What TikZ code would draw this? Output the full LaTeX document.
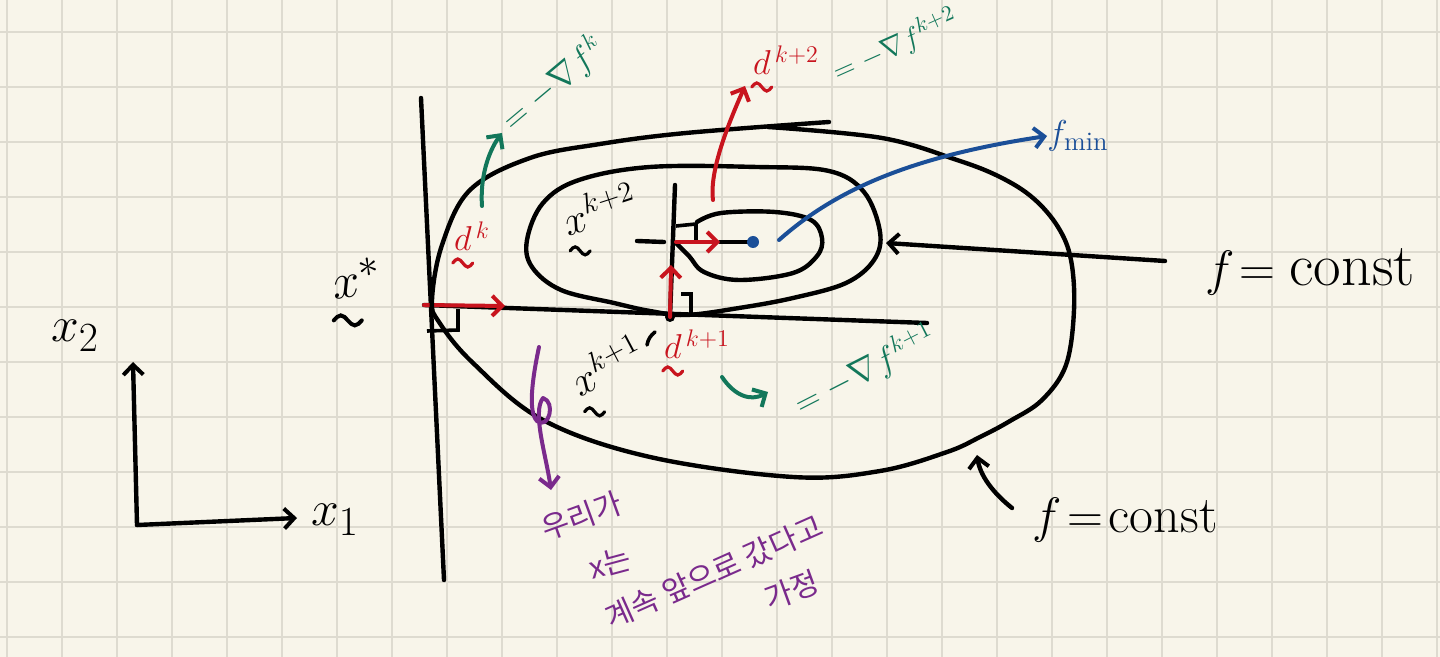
\documentclass[tikz,border=0pt]{standalone}
\usepackage{fontspec}
\usepackage{amsmath}
\newfontfamily\krfont{Noto Sans CJK KR}
\usetikzlibrary{arrows.meta}
\definecolor{paper}{HTML}{F8F5EA}
\definecolor{gridc}{HTML}{DEDBD0}
\definecolor{pred}{HTML}{C8141E}
\definecolor{pgreen}{HTML}{12775A}
\definecolor{pblue}{HTML}{1B4F98}
\definecolor{ppurple}{HTML}{7A2A8C}
% handwritten tilde (vector mark) centred at coordinate named #1
\newcommand{\tld}[2]{\draw[line width=1.6pt, line cap=round, #2] ([xshift=-5pt]#1) sin ++(2.5pt,2pt) cos ++(2.5pt,-2pt) sin ++(2.5pt,-2pt) cos ++(2.5pt,2pt);}
\begin{document}
\begin{tikzpicture}[x=0.5pt,y=-0.5pt,
 ink/.style={line width=2.2pt, line cap=round, line join=round},
 pen/.style={line width=2pt, line cap=round, line join=round},
 barb/.style={-{Straight Barb[length=5pt,width=10pt,line width=2pt]}},
 lbl/.style={inner sep=0pt},
 small/.style={lbl, font=\fontsize{17}{19}\selectfont},
 mid/.style={lbl, font=\fontsize{20}{22}\selectfont},
 big/.style={lbl, font=\fontsize{30}{32}\selectfont},
 kr/.style={lbl, text=ppurple, font=\krfont\fontsize{15}{17}\selectfont},
]
\fill[paper] (0,0) rectangle (1440,657);
\useasboundingbox (0,0) rectangle (1440,657);
\foreach \i in {0,...,26} \draw[gridc, line width=0.8pt] ({7+55*\i},0) -- ({7+55*\i},657);
\foreach \j in {0,...,11} \draw[gridc, line width=0.8pt] (0,{32+55*\j}) -- (1440,{32+55*\j});

% axes
\coordinate (O) at (137,525);
\coordinate (Ytop) at (133,362);
\coordinate (Xend) at (297,518);
\draw[ink,barb] (O) -- (Ytop);
\draw[ink,barb] (O) -- (Xend);
\node[big] (x2) at (75,336) {$x_2$};
\node[big] (x1) at (335,520) {$x_1$};

% long vertical line and tangent line
\coordinate (Vt) at (421,98);
\coordinate (Vb) at (444,580);
\draw[ink] (Vt) -- (Vb);
\coordinate (Hl) at (424,305);
\coordinate (Hr) at (927,323);
\draw[ink] (Hl) -- (Hr);
\coordinate (ra1) at (427,331);
\coordinate (ra2) at (458,330);
\coordinate (ra3) at (458,309);
\draw[line width=1.8pt] (ra1) -- (ra2) -- (ra3);
\coordinate (dkend) at (505,306);
\draw[pen,pred,barb] (Hl) -- (dkend);

% outer contour
\draw[ink] plot[smooth, tension=0.6] coordinates {(768,127) (882,138) (957,160) (1000,177) (1033,198) (1058,227) (1071,260) (1074,310) (1066,365) (1042,400) (1010,421) (980,437) (947,452) (880,471) (793,477) (650,457) (543,420) (473,363) (439,322) (432,300) (442,245) (470,190) (530,158) (600,144) (686,133) (829,122)};

% middle contour
\draw[ink] plot[smooth cycle, tension=0.6] coordinates {(686,315) (650,311) (614,303) (561,290) (532,267) (527,240) (543,203) (579,180) (650,167) (757,167) (829,171) (864,192) (880,232) (874,260) (846,283) (793,298) (739,308)};

% inner contour
\draw[ink] plot[smooth, tension=0.6] coordinates {(697,222) (721,213) (775,212) (811,220) (822,238) (817,256) (793,273) (739,280) (704,272) (689,256) (676,243)};

% x^{k+1}
\coordinate (K1) at (670,317);
\coordinate (K1top) at (675,185);
\draw[ink] (K1) -- (K1top);
\fill (K1) circle (5);
\coordinate (dk1end) at (671,265);
\draw[pen,pred,barb] (K1) -- (dk1end);
\coordinate (rb1) at (681,294);
\coordinate (rb2) at (691,294);
\coordinate (rb3) at (691,316);
\draw[line width=1.8pt] (rb1) -- (rb2) -- (rb3);

% x^{k+2}
\coordinate (K2) at (676,242);
\coordinate (tickL) at (637,241);
\coordinate (tickR) at (664,242);
\draw[ink] (tickL) -- (tickR);
\coordinate (rc1) at (676,226);
\coordinate (rc2) at (696,224);
\coordinate (rc3) at (696,242);
\draw[line width=1.8pt] (rc1) -- (rc2) -- (rc3);
\coordinate (dk2end) at (720,242);
\coordinate (Min) at (753,242);
\draw[ink] (dk2end) -- (Min);
\draw[pen,pred,barb] (K2) -- (dk2end);
\fill[pblue] (Min) circle (6);

% f_min
\node[lbl, text=pblue, font=\fontsize{19}{21}\selectfont] (fmin) at (1078,136) {$f_{\mathrm{min}}$};
\coordinate (bstart) at (779,240);
\draw[pen,pblue,barb] (bstart) .. controls (830,195) and (900,158) .. (fmin.west);

% f = const (right)
\node[big] (fc1) at (1310,272) {$f\!=\mathrm{const}$};
\coordinate (a1s) at (1165,261);
\coordinate (a1e) at (886,243);
\draw[ink,barb] (a1s) -- (a1e);

% f = const (bottom)
\node[lbl, font=\fontsize{26}{28}\selectfont] (fc2) at (1125,520) {$f\!=\!\mathrm{const}$};
\coordinate (a2s) at (1012,508);
\coordinate (a2e) at (977,455);
\draw[ink,barb] (a2s) .. controls (992,492) and (980,475) .. (a2e);

% d^k
\node[small, text=pred] (dk) at (472,236) {$d^{\,k}$};
\coordinate (dkt) at ([xshift=4.5pt,yshift=-6pt]dk.south west);
\tld{dkt}{pred}
\coordinate (gks) at (482,206);
\coordinate (gke) at (502,133);
\draw[pen,pgreen,barb] (gks) .. controls (480,178) and (488,152) .. (gke);
\node[small, text=pgreen, rotate=40] (gk) at (553,84) {$=-\nabla f^{k}$};

% d^{k+2}
\node[small, text=pred] (dk2) at (786,60) {$d^{\,k+2}$};
\coordinate (dk2t) at ([xshift=4.5pt,yshift=-6pt]dk2.south west);
\tld{dk2t}{pred}
\coordinate (rks) at (713,200);
\coordinate (rke) at (745,86);
\draw[pen,pred,barb] (rks) .. controls (709,170) and (730,120) .. (rke);
\node[lbl, text=pgreen, rotate=24, font=\fontsize{15}{17}\selectfont] (gk2) at (895,45) {$=-\nabla f^{k+2}$};

% x labels
\node[mid, rotate=18] (xk2) at (599,208) {$x^{k+2}$};
\coordinate (xk2t) at ([xshift=6pt,yshift=-7pt]xk2.south west);
\tld{xk2t}{black}
\node[mid, rotate=28] (xk1) at (606,364) {$x^{k+1}$};
\coordinate (xk1t) at ([xshift=7pt,yshift=-7pt]xk1.south west);
\tld{xk1t}{black}
\coordinate (tk1) at (655,332);
\coordinate (tk2) at (647,345);
\draw[line width=1.8pt, line cap=round] (tk1) to[bend right=20] (tk2);
\node[big, rotate=8] (xs) at (356,278) {$x^{*}$};
\coordinate (xst) at ([xshift=7pt,yshift=-10pt]xs.south west);
\draw[line width=2pt, line cap=round] ([xshift=-7pt]xst) sin ++(3.5pt,2.5pt) cos ++(3.5pt,-2.5pt) sin ++(3.5pt,-2.5pt) cos ++(3.5pt,2.5pt);

% d^{k+1}
\node[small, text=pred] (dk1) at (697,344) {$d^{\,k+1}$};
\coordinate (dk1t) at ([xshift=4.5pt,yshift=-6pt]dk1.south west);
\tld{dk1t}{pred}
\coordinate (hks) at (722,377);
\coordinate (hke) at (768,392);
\draw[pen,pgreen,barb] (hks) .. controls (734,395) and (750,402) .. (hke);
\node[small, text=pgreen, rotate=27] (gk1) at (865,370) {$=-\nabla f^{k+1}$};

% purple note
\coordinate (ps) at (539,347);
\coordinate (pe) at (551,490);
\draw[pen,ppurple,barb] (ps) .. controls (532,380) and (528,412) .. (537,421) .. controls (549,430) and (556,402) .. (543,398) .. controls (532,412) and (546,455) .. (pe);
\node[kr, rotate=20] (k1) at (582,516) {우리가};
\node[kr, rotate=15] (k2) at (610,563) {x는};
\node[kr, rotate=24] (k3) at (714,572) {계속 앞으로 갔다고};
\node[kr, rotate=20] (k4) at (792,590) {가정};
\end{tikzpicture}
\end{document}
